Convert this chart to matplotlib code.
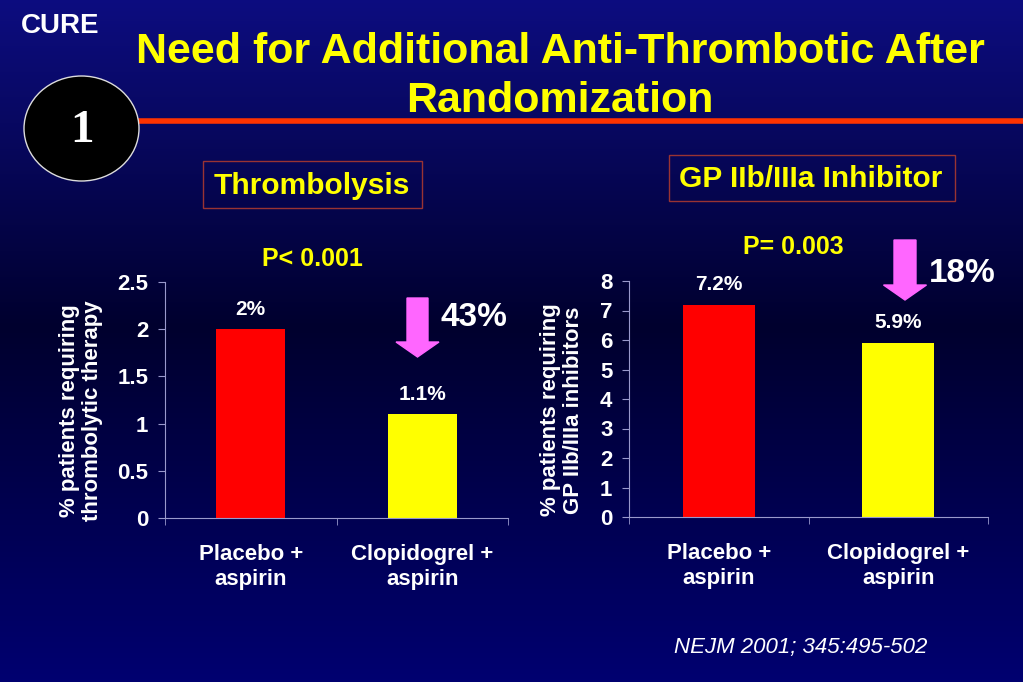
import matplotlib.pyplot as plt
import numpy as np
from matplotlib.patches import Ellipse, Rectangle, FancyArrow

plt.rcParams['font.family'] = ['Liberation Sans', 'DejaVu Sans']
plt.rcParams['font.weight'] = 'bold'

groups = ['Placebo +\naspirin', 'Clopidogrel +\naspirin']
thromb = [2.0, 1.1]
thromb_lbl = ['2%', '1.1%']
gp = [7.2, 5.9]
gp_lbl = ['7.2%', '5.9%']
bar_cols = ['#ff0000', '#ffff00']

W, H = 1023, 682
fig = plt.figure(figsize=(W / 100, H / 100), dpi=100)

# background gradient + decorations, drawn in pixel coords
bg = fig.add_axes([0, 0, 1, 1])
bg.set_xlim(0, W)
bg.set_ylim(H, 0)
bg.axis('off')
t = np.linspace(0, 1, 256)
top = np.array([0.05, 0.05, 0.50])
mid = np.array([0.0, 0.0, 0.18])
bot = np.array([0.0, 0.0, 0.44])
cols = np.where(t[:, None] < 0.48,
                top + (mid - top) * (t[:, None] / 0.48),
                mid + (bot - mid) * ((t[:, None] - 0.48) / 0.52))
bg.imshow(np.repeat(cols[:, None, :], 2, axis=1), extent=[0, W, H, 0], aspect='auto', zorder=0)

bg.plot([138, W], [121, 121], color='#ff3300', lw=4, zorder=1)
bg.add_patch(Ellipse((81.5, 128.5), 115, 105, facecolor='black', edgecolor='#dddddd', lw=1, zorder=2))
bg.text(82, 131, '1', color='white', fontsize=34, family='Liberation Serif',
        ha='center', va='center', zorder=3)
bg.text(21, 33, 'CURE', color='white', fontsize=20, ha='left', va='baseline')
bg.text(560, 63, 'Need for Additional Anti-Thrombotic After', color='#ffff00',
        fontsize=31, ha='center', va='baseline')
bg.text(560, 112, 'Randomization', color='#ffff00', fontsize=31, ha='center', va='baseline')

bg.add_patch(Rectangle((203, 161), 219, 47, fill=False, edgecolor='#993333', lw=1))
bg.text(312, 186, 'Thrombolysis', color='#ffff00', fontsize=21.5, ha='center', va='center')
bg.add_patch(Rectangle((669, 155), 286, 46, fill=False, edgecolor='#993333', lw=1))
bg.text(811, 179, 'GP IIb/IIIa Inhibitor', color='#ffff00', fontsize=21.5, ha='center', va='center')

bg.text(312, 259, 'P< 0.001', color='#ffff00', fontsize=18, ha='center', va='center')
bg.text(793, 247, 'P= 0.003', color='#ffff00', fontsize=18, ha='center', va='center')

# reduction arrows
bg.add_patch(FancyArrow(417.5, 298, 0, 59, width=21, head_width=43, head_length=15,
                        length_includes_head=True, color='#ff66ff', zorder=3))
bg.text(474, 318, '43%', color='white', fontsize=24, ha='center', va='center')
bg.add_patch(FancyArrow(905, 240, 0, 60, width=22, head_width=43, head_length=15,
                        length_includes_head=True, color='#ff66ff', zorder=3))
bg.text(962, 273, '18%', color='white', fontsize=24, ha='center', va='center')

bg.text(801, 647, 'NEJM 2001; 345:495-502', color='white', fontsize=16, style='italic',
        weight='normal', ha='center', va='center')

axis_col = '#9999cc'


def bar_panel(rect, vals, lbls, ymax, step, ylabel, lab_x):
    ax = fig.add_axes(rect)
    ax.patch.set_visible(False)
    x = np.arange(len(vals))
    ax.bar(x, vals, width=0.4, color=bar_cols, zorder=2)
    for xi, v, s in zip(x, vals, lbls):
        ax.text(xi, v + ymax * 0.045, s, color='white', fontsize=15, ha='center', va='bottom')
    ax.set_xlim(-0.5, 1.5)
    ax.set_ylim(0, ymax)
    yt = np.arange(0, ymax + step / 2, step)
    ax.set_yticks(yt)
    ax.set_yticklabels([f'{v:g}' for v in yt])
    ax.set_xticks(x)
    ax.set_xticklabels(groups)
    ax.set_xticks([-0.5, 0.5, 1.5], minor=True)
    ax.tick_params(axis='x', which='major', length=0, pad=19, colors='white', labelsize=16)
    ax.tick_params(axis='x', which='minor', length=5, color=axis_col, direction='out')
    ax.tick_params(axis='y', length=5, color=axis_col, colors='white', labelsize=16, pad=7)
    for lab in ax.get_xticklabels() + ax.get_yticklabels():
        lab.set_fontweight('bold')
    for sp in ['top', 'right']:
        ax.spines[sp].set_visible(False)
    for sp in ['left', 'bottom']:
        ax.spines[sp].set_color(axis_col)
    ax.set_ylabel(ylabel, color='white', fontsize=16, fontweight='bold', linespacing=1.15)
    ax.yaxis.set_label_coords(lab_x, 0.453)
    return ax


bar_panel([165 / W, 164 / H, 343 / W, 236 / H], thromb, thromb_lbl, 2.5, 0.5,
          '% patients requiring\nthrombolytic therapy', (103 - 165) / 343)
bar_panel([629 / W, 165 / H, 359 / W, 236 / H], gp, gp_lbl, 8, 1,
          '% patients requiring\nGP IIb/IIIa inhibitors', (584 - 629) / 359)

fig.savefig('out.png', dpi=100)
